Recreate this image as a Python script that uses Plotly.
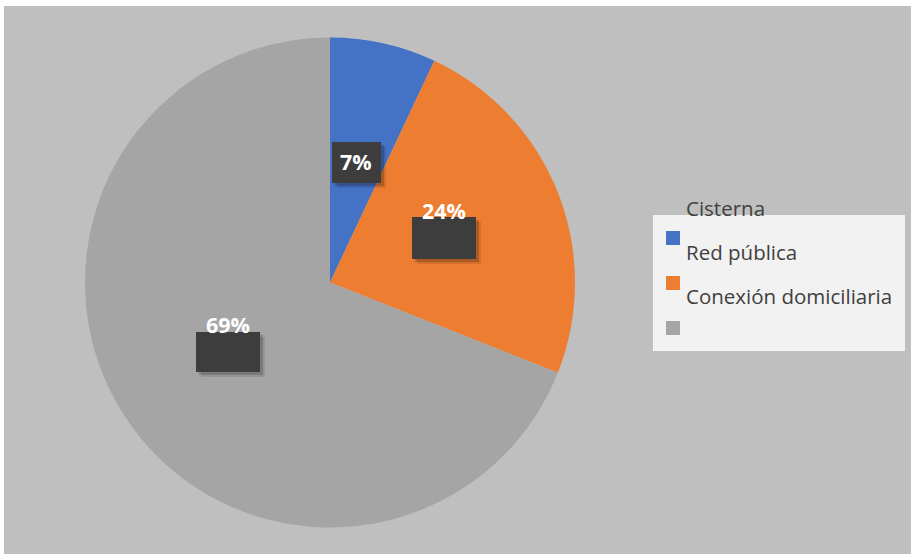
import plotly.graph_objects as go

# Data
categories = ["Red pública", "Conexión domiciliaria", ""]
values = [7, 24, 69]
colors = ["#4472C4", "#ED7D31", "#A5A5A5"]
legend_title = "Cisterna"

W, H = 911, 554


def px(x):
    return x / W


def py(y):
    return 1 - y / H


total = sum(values)
pct_labels = [f"{round(v / total * 100)}%" for v in values]

fig = go.Figure()
fig.add_trace(go.Pie(
    labels=[c if c else " " for c in categories],
    values=values,
    marker=dict(colors=colors, line=dict(width=0)),
    sort=False,
    direction="clockwise",
    rotation=0,
    textinfo="none",
    hoverinfo="label+percent",
    showlegend=False,
    domain=dict(x=[px(85), px(575)], y=[py(528), py(37)]),
))

shapes = []
annotations = []

# chart area background with thin white edge at top/left
shapes.append(dict(type="rect", xref="paper", yref="paper", layer="below",
                   x0=px(4), x1=1, y0=0, y1=py(6),
                   fillcolor="#BFBFBF", line=dict(width=0)))

# data label boxes (box rect in px, text centre in px)
label_boxes = [
    ((332, 142, 381, 183), (356, 162)),
    ((412, 217, 476, 259), (444, 210)),
    ((196, 332, 260, 372), (228, 324)),
]
for (x0, y0, x1, y1), (tx, ty) in label_boxes:
    for off, col in [(5, "rgba(0,0,0,0.10)"), (3, "rgba(0,0,0,0.18)")]:
        shapes.append(dict(type="rect", xref="paper", yref="paper",
                           x0=px(x0 + off), x1=px(x1 + off), y0=py(y1 + off), y1=py(y0 + off),
                           fillcolor=col, line=dict(width=0)))
    shapes.append(dict(type="rect", xref="paper", yref="paper",
                       x0=px(x0), x1=px(x1), y0=py(y1), y1=py(y0),
                       fillcolor="#3D3D3D", line=dict(width=0)))

for (box, (tx, ty)), lab in zip(label_boxes, pct_labels):
    annotations.append(dict(xref="paper", yref="paper", x=px(tx), y=py(ty),
                            text=f"<b>{lab}</b>", showarrow=False,
                            xanchor="center", yanchor="middle",
                            font=dict(family="Open Sans", size=21.5, color="#FFFFFF")))

# legend
shapes.append(dict(type="rect", xref="paper", yref="paper",
                   x0=px(653), x1=px(905), y0=py(351), y1=py(215),
                   fillcolor="#F2F2F2", line=dict(width=0)))
marker_tops = [231, 276, 321]
for top, col in zip(marker_tops, colors):
    shapes.append(dict(type="rect", xref="paper", yref="paper",
                       x0=px(666), x1=px(680), y0=py(top + 14), y1=py(top),
                       fillcolor=col, line=dict(width=0)))

legend_font = dict(family="Open Sans", size=20.5, color="#404040")
annotations.append(dict(xref="paper", yref="paper", x=px(684), y=py(208),
                        text=legend_title, showarrow=False,
                        xanchor="left", yanchor="middle", font=legend_font))
text_centres = [252, 296, 341]
for cy, cat in zip(text_centres, categories):
    if cat:
        annotations.append(dict(xref="paper", yref="paper", x=px(684), y=py(cy),
                                text=cat, showarrow=False,
                                xanchor="left", yanchor="middle", font=legend_font))

fig.update_layout(
    width=W, height=H,
    margin=dict(l=0, r=0, t=0, b=0),
    paper_bgcolor="#FFFFFF",
    plot_bgcolor="#BFBFBF",
    shapes=shapes,
    annotations=annotations,
)

fig.write_html("out.html")
